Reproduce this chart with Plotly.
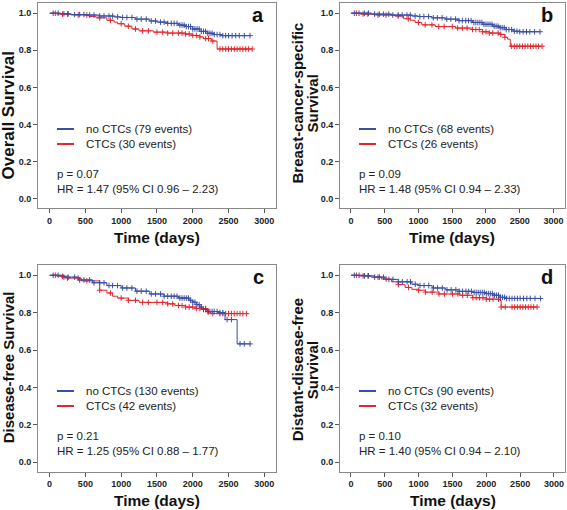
import numpy as np
import plotly.graph_objects as go

W, H = 567, 510
BLUE = "#3a4fa6"
RED = "#e5262c"

# ---------------- data ----------------
# Panel a: Overall survival
a_blue_t = [0, 150, 300, 500, 700, 900, 1000, 1200, 1400, 1500, 1650, 1800, 1900, 2000, 2100, 2200, 2300, 2400]
a_blue_s = [1.0, 0.997, 0.993, 0.99, 0.985, 0.98, 0.977, 0.968, 0.958, 0.952, 0.945, 0.936, 0.928, 0.915, 0.902, 0.892, 0.885, 0.879]
a_blue_end = 2800
a_blue_c = [50, 120, 200, 260, 350, 420, 480, 560, 620, 700, 760, 830, 880, 950, 1020, 1080, 1150, 1220, 1280, 1350,
            1420, 1480, 1550, 1600, 1650, 1700, 1740, 1780, 1820, 1850, 1880, 1910, 1940, 1970, 2000, 2030, 2060, 2090,
            2120, 2150, 2180, 2210, 2240, 2270, 2300, 2340, 2380, 2420, 2460, 2500, 2550, 2600, 2650, 2720, 2800]
a_red_t = [0, 100, 300, 550, 650, 800, 900, 950, 1050, 1150, 1250, 1450, 1650, 1900, 2000, 2100, 2150, 2260, 2340]
a_red_s = [1.0, 0.995, 0.99, 0.982, 0.975, 0.962, 0.952, 0.943, 0.93, 0.915, 0.905, 0.898, 0.893, 0.888, 0.88, 0.872, 0.863, 0.85, 0.807]
a_red_end = 2830
a_red_c = [80, 180, 250, 400, 520, 700, 850, 1000, 1100, 1200, 1300, 1380, 1500, 1580, 1650, 1720, 1800, 1850, 1900,
           1950, 2000, 2050, 2100, 2180, 2220, 2280, 2380, 2420, 2460, 2500, 2540, 2580, 2620, 2660, 2700, 2740, 2780, 2830]

# Panel b: Breast-cancer-specific survival
b_blue_t = [0, 300, 600, 900, 1000, 1200, 1400, 1600, 1800, 1950, 2100, 2200, 2300, 2400, 2500]
b_blue_s = [1.0, 0.995, 0.99, 0.985, 0.982, 0.975, 0.968, 0.96, 0.95, 0.94, 0.93, 0.922, 0.912, 0.903, 0.9]
b_blue_end = 2800
b_blue_c = a_blue_c
b_red_t = [0, 150, 400, 650, 780, 880, 950, 1050, 1250, 1550, 1800, 1950, 2050, 2200, 2280, 2320, 2360]
b_red_s = [1.0, 0.995, 0.99, 0.985, 0.97, 0.962, 0.95, 0.937, 0.928, 0.92, 0.912, 0.9, 0.893, 0.886, 0.87, 0.86, 0.822]
b_red_end = 2830
b_red_c = a_red_c

# Panel c: Disease-free survival
c_blue_t = [0, 200, 400, 600, 800, 1000, 1200, 1400, 1600, 1800, 1950, 2000, 2050, 2100, 2150, 2200, 2350, 2450, 2620]
c_blue_s = [1.0, 0.99, 0.975, 0.96, 0.945, 0.932, 0.915, 0.9, 0.888, 0.878, 0.866, 0.856, 0.843, 0.83, 0.817, 0.806, 0.8, 0.763, 0.633]
c_blue_end = 2800
c_blue_c = [50, 120, 200, 260, 350, 420, 480, 560, 620, 700, 760, 830, 880, 950, 1020, 1080, 1150, 1220, 1280, 1350,
            1420, 1480, 1550, 1600, 1650, 1700, 1740, 1780, 1820, 1850, 1880, 1910, 1940, 1970, 2000, 2030, 2060, 2090,
            2120, 2150, 2180, 2210, 2240, 2270, 2300, 2340, 2380, 2420, 2480, 2540, 2660, 2720, 2800]
c_red_t = [0, 100, 250, 440, 700, 800, 880, 950, 1100, 1250, 1650, 1750, 1900, 2050, 2200, 2250]
c_red_s = [1.0, 0.995, 0.985, 0.97, 0.92, 0.905, 0.888, 0.878, 0.866, 0.855, 0.847, 0.838, 0.83, 0.822, 0.805, 0.795]
c_red_end = 2750
c_red_c = [80, 180, 250, 400, 520, 700, 850, 1000, 1100, 1200, 1300, 1380, 1500, 1580, 1650, 1720, 1800, 1850, 1900,
           1950, 2000, 2050, 2100, 2180, 2220, 2280, 2380, 2420, 2460, 2500, 2540, 2580, 2620, 2660, 2700, 2750]

# Panel d: Distant-disease-free survival
d_blue_t = [0, 200, 350, 500, 700, 900, 1000, 1200, 1400, 1600, 1800, 2000, 2100, 2200, 2300]
d_blue_s = [1.0, 0.997, 0.99, 0.978, 0.965, 0.952, 0.945, 0.932, 0.922, 0.914, 0.908, 0.902, 0.893, 0.882, 0.876]
d_blue_end = 2800
d_blue_c = a_blue_c
d_red_t = [0, 100, 300, 450, 600, 700, 800, 900, 1000, 1100, 1300, 1600, 1800, 2000, 2200, 2220]
d_red_s = [1.0, 0.997, 0.99, 0.98, 0.965, 0.95, 0.935, 0.925, 0.92, 0.91, 0.9, 0.893, 0.88, 0.872, 0.865, 0.83]
d_red_end = 2750
d_red_c = c_red_c

panel_letters = ["a", "b", "c", "d"]
y_titles = [["Overall Survival"], ["Breast-cancer-specific", "Survival"], ["Disease-free Survival"],
            ["Distant-disease-free", "Survival"]]
legend_blue = ["no CTCs (79 events)", "no CTCs (68 events)", "no CTCs (130 events)", "no CTCs (90 events)"]
legend_red = ["CTCs (30 events)", "CTCs (26 events)", "CTCs (42 events)", "CTCs (32 events)"]
p_texts = ["p = 0.07", "p = 0.09", "p = 0.21", "p = 0.10"]
hr_texts = ["HR = 1.47 (95% CI 0.96 \u2013 2.23)", "HR = 1.48 (95% CI 0.94 \u2013 2.33)",
            "HR = 1.25 (95% CI 0.88 \u2013 1.77)", "HR = 1.40 (95% CI 0.94 \u2013 2.10)"]
x_ticks = [0, 500, 1000, 1500, 2000, 2500, 3000]
y_ticks = [0.0, 0.2, 0.4, 0.6, 0.8, 1.0]

curves = [
    ((a_blue_t, a_blue_s, a_blue_end, a_blue_c), (a_red_t, a_red_s, a_red_end, a_red_c)),
    ((b_blue_t, b_blue_s, b_blue_end, b_blue_c), (b_red_t, b_red_s, b_red_end, b_red_c)),
    ((c_blue_t, c_blue_s, c_blue_end, c_blue_c), (c_red_t, c_red_s, c_red_end, c_red_c)),
    ((d_blue_t, d_blue_s, d_blue_end, d_blue_c), (d_red_t, d_red_s, d_red_end, d_red_c)),
]

# ---------------- layout geometry (pixels) ----------------
boxes = [(38, 276, 3, 208), (340, 564.5, 3, 208), (38, 276, 265, 471.5), (340, 565, 265, 471.5)]
ytitle_size = [17, 15, 15, 15]
ytitle_dy = [10, -2, -1, 2]
FONT = "Liberation Sans, Arial"

fig = go.Figure()
annotations = []
shapes = []

def px_x(p):
    return p / W

def px_y(p):
    return 1 - p / H

for i, ((bt, bs, bend, bc), (rt, rs, rend, rc)) in enumerate(curves):
    ax = "" if i == 0 else str(i + 1)
    xa, ya = "x" + ax, "y" + ax
    for (t, s, end, cens, col) in [(rt, rs, rend, rc, RED), (bt, bs, bend, bc, BLUE)]:
        t_arr = np.array(t, dtype=float)
        s_arr = np.array(s, dtype=float)
        fig.add_trace(go.Scatter(x=list(t_arr) + [end], y=list(s_arr) + [s_arr[-1]], mode="lines",
                                 line=dict(color=col, width=1, shape="hv"), xaxis=xa, yaxis=ya,
                                 showlegend=False, hoverinfo="skip"))
        c_arr = np.array(cens, dtype=float)
        idx = np.searchsorted(t_arr, c_arr, side="right") - 1
        fig.add_trace(go.Scatter(x=c_arr, y=s_arr[idx], mode="markers",
                                 marker=dict(symbol="cross-thin", size=4, line=dict(color=col, width=1)),
                                 xaxis=xa, yaxis=ya, showlegend=False, hoverinfo="skip"))

    l, r, t0, b0 = boxes[i]
    axis_common = dict(showline=True, mirror=True, linecolor="#8a8a8a", linewidth=1, showgrid=False,
                       zeroline=False, ticks="outside", ticklen=4, tickcolor="#555",
                       tickfont=dict(family=FONT, size=9, color="#222", weight=700))
    fig.update_layout(**{
        "xaxis" + ax: dict(domain=[px_x(l), px_x(r)], range=[-162, 3163], tickvals=x_ticks,
                           anchor=ya, **axis_common),
        "yaxis" + ax: dict(domain=[px_y(b0), px_y(t0)], range=[-0.05, 1.055], tickvals=y_ticks,
                           tickformat=".1f", anchor=xa, **axis_common),
    })

    # panel letter
    annotations.append(dict(text="<b>" + panel_letters[i] + "</b>", x=px_x(r - 10), y=px_y(t0 + 12),
                            xref="paper", yref="paper", showarrow=False, xanchor="right", yanchor="middle",
                            font=dict(family=FONT, size=20, color="#111")))
    # x title
    annotations.append(dict(text="<b>Time (days)</b>", x=px_x((l + r) / 2), y=px_y(b0 + 29),
                            xref="paper", yref="paper", showarrow=False, xanchor="center", yanchor="middle",
                            font=dict(family=FONT, size=15.5, color="#111")))
    # y title (one or two lines)
    lines = y_titles[i]
    if len(lines) == 1:
        xs = [l - 30]
    else:
        xs = [l - 43, l - 28]
    for line_txt, xx in zip(lines, xs):
        annotations.append(dict(text="<b>" + line_txt + "</b>", x=px_x(xx),
                                y=px_y((t0 + b0) / 2 + ytitle_dy[i]),
                                xref="paper", yref="paper", showarrow=False, xanchor="center", yanchor="middle",
                                textangle=-90,
                                font=dict(family=FONT, size=ytitle_size[i], color="#111")))
    # legend
    leg_x0 = l + 19
    for j, (txt, col) in enumerate([(legend_blue[i], BLUE), (legend_red[i], RED)]):
        yy = t0 + 126 + 15 * j
        shapes.append(dict(type="line", xref="paper", yref="paper", x0=px_x(leg_x0), x1=px_x(leg_x0 + 17),
                           y0=px_y(yy), y1=px_y(yy), line=dict(color=col, width=2)))
        annotations.append(dict(text=txt, x=px_x(leg_x0 + 27), y=px_y(yy), xref="paper", yref="paper",
                                showarrow=False, xanchor="left", yanchor="middle",
                                font=dict(family=FONT, size=11.5, color="#222")))
    for j, txt in enumerate([p_texts[i], hr_texts[i]]):
        yy = t0 + 171 + 15 * j
        annotations.append(dict(text=txt, x=px_x(l + 17), y=px_y(yy), xref="paper", yref="paper",
                                showarrow=False, xanchor="left", yanchor="middle",
                                font=dict(family=FONT, size=11.5, color="#222")))

fig.update_layout(width=W, height=H, margin=dict(l=0, r=0, t=0, b=0), paper_bgcolor="white",
                  plot_bgcolor="white", showlegend=False, annotations=annotations, shapes=shapes)

fig.write_html("out.html", config={"displayModeBar": False},
               post_script="document.body.style.margin='0px';document.body.style.overflow='hidden';")
